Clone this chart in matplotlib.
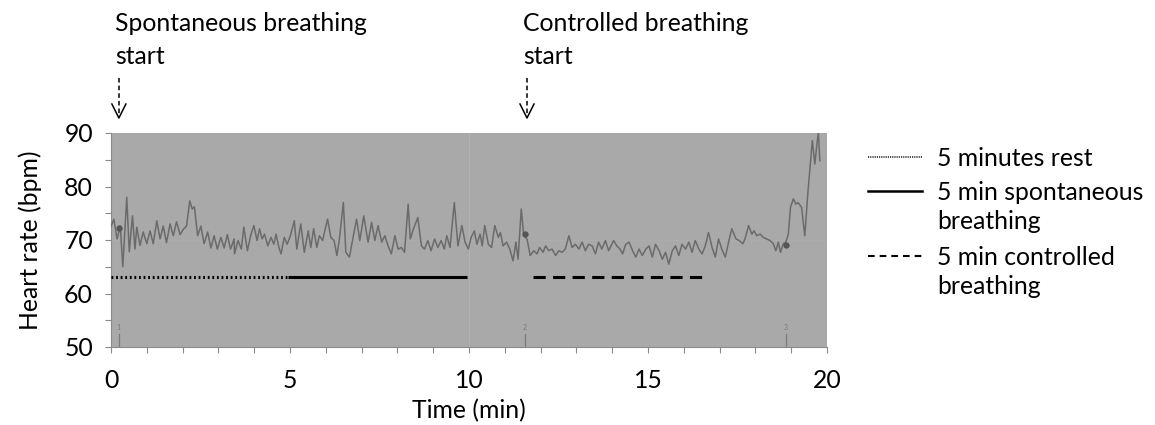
import matplotlib
matplotlib.use("Agg")
import matplotlib.pyplot as plt
from matplotlib.ticker import MultipleLocator
from matplotlib.lines import Line2D

# ---------------- data ----------------
hr_time = [0.00, 0.08, 0.17, 0.26, 0.33, 0.44, 0.51, 0.60, 0.67, 0.72, 0.81, 0.90, 1.00, 1.09, 1.18,
           1.28, 1.37, 1.46, 1.55, 1.65, 1.74, 1.83, 1.93, 2.02, 2.11, 2.20, 2.27, 2.33, 2.42, 2.51,
           2.60, 2.70, 2.79, 2.88, 2.97, 3.07, 3.16, 3.25, 3.34, 3.44,
           3.45, 3.55, 3.64, 3.71, 3.81, 3.90, 3.99, 4.08, 4.15, 4.22, 4.29, 4.38, 4.47, 4.55, 4.61,
           4.69, 4.75, 4.84, 4.92, 5.01, 5.12, 5.19, 5.30, 5.40, 5.51, 5.58, 5.66, 5.75, 5.82, 5.91,
           6.05, 6.14, 6.23, 6.31, 6.38, 6.49, 6.56, 6.66, 6.77, 6.86, 6.95,
           7.06, 7.18, 7.28, 7.37, 7.46, 7.56, 7.65, 7.74, 7.83, 7.93, 8.02, 8.11, 8.20, 8.30, 8.36,
           8.45, 8.57, 8.67, 8.76, 8.85, 8.94, 9.04, 9.13, 9.22, 9.31, 9.38, 9.47, 9.59, 9.69, 9.80,
           9.89, 9.98, 10.06, 10.15, 10.22, 10.31, 10.37, 10.44,
           10.54, 10.63, 10.72, 10.82, 10.88, 10.95, 11.05, 11.14, 11.23, 11.31, 11.37, 11.46, 11.53,
           11.62, 11.71, 11.81, 11.90, 11.97, 12.07, 12.14, 12.23, 12.32, 12.42, 12.51, 12.60, 12.69,
           12.79, 12.88, 12.97, 13.07, 13.16, 13.25, 13.34, 13.44, 13.53, 13.62, 13.71, 13.81, 13.90,
           14.04, 14.13, 14.22, 14.29, 14.38, 14.47, 14.57, 14.66, 14.75, 14.84, 14.94, 15.03, 15.12,
           15.21, 15.31, 15.40, 15.49, 15.58, 15.68, 15.77, 15.86, 15.95, 16.05, 16.14, 16.23, 16.32,
           16.42, 16.51, 16.60, 16.69, 16.79, 16.88, 16.97, 17.06, 17.16, 17.25, 17.34,
           17.46, 17.55, 17.65, 17.71, 17.81, 17.90, 17.96, 18.04, 18.13, 18.22, 18.31, 18.41, 18.50,
           18.57, 18.64, 18.70, 18.78, 18.85, 18.92, 18.98, 19.06, 19.13, 19.19, 19.29, 19.38, 19.47,
           19.54, 19.59, 19.66, 19.72, 19.76, 19.80]
hr_value = [72.5, 73.9, 70.2, 72.6, 65.0, 78.0, 67.8, 74.5, 68.3, 72.4, 69.0, 71.5, 69.3, 71.7, 69.3,
            73.6, 70.2, 72.6, 69.5, 73.0, 70.8, 73.4, 71.0, 72.0, 72.6, 77.3, 75.8, 76.2, 70.8, 72.6,
            69.3, 71.5, 68.5, 70.8, 68.3, 70.5, 68.5, 71.0, 68.3, 70.2,
            67.4, 69.9, 68.3, 72.4, 68.0, 70.8, 72.7, 69.9, 72.1, 70.2, 71.1, 68.9, 70.5, 69.2, 71.1,
            68.6, 67.4, 70.5, 69.2, 70.8, 73.6, 68.3, 73.0, 67.7, 71.7, 68.6, 72.1, 68.6, 70.8, 69.9,
            73.9, 70.5, 69.9, 67.1, 70.2, 77.0, 67.7, 66.8, 70.8, 73.9, 69.9,
            74.5, 69.6, 73.3, 69.9, 72.7, 69.6, 70.8, 68.9, 67.4, 70.8, 68.3, 68.6, 67.7, 76.7, 70.2,
            72.1, 74.2, 68.9, 68.3, 69.9, 68.0, 70.2, 68.6, 69.9, 68.3, 70.8, 68.6, 77.0, 68.9, 72.7,
            69.6, 68.3, 70.5, 71.7, 69.2, 71.1, 68.9, 72.7,
            69.2, 68.6, 72.7, 70.5, 71.4, 68.9, 69.6, 68.3, 66.1, 69.6, 66.4, 75.8, 70.8,
            70.2, 67.1, 68.0, 67.4, 68.6, 67.7, 68.9, 68.0, 68.3, 67.1, 68.0, 67.7, 68.3,
            70.8, 68.6, 69.2, 68.3, 69.6, 68.0, 69.2, 68.9, 67.4, 69.6, 68.3, 69.9, 68.0,
            69.9, 68.9, 68.3, 67.4, 69.2, 69.6, 68.0, 66.8, 68.3, 67.1, 68.3, 68.9, 66.8,
            69.2, 68.0, 66.4, 67.7, 65.5, 68.0, 68.9, 67.1, 69.2, 68.3, 69.6, 67.7, 69.9,
            68.3, 67.4, 68.9, 71.4, 68.6, 66.8, 70.2, 68.3, 66.8, 69.6, 72.1,
            70.2, 69.9, 69.3, 70.2, 72.7, 71.1, 71.7, 70.8, 71.1, 70.5, 70.2, 69.9, 69.3,
            68.0, 69.6, 67.7, 69.3, 69.6, 71.1, 76.1, 77.7, 76.7, 77.0, 76.1, 70.8, 79.2,
            84.8, 88.6, 84.2, 88.0, 90.0, 84.8]

event_time = [0.22, 11.56, 18.85]
event_value = [72.3, 71.1, 69.1]
event_label = ["1", "2", "3"]

phase_start = [0.0, 4.95, 11.8]
phase_end = [4.95, 9.95, 16.7]
phase_level = [63, 63, 63]
phase_label = ["5 minutes rest", "5 min spontaneous\nbreathing", "5 min controlled\nbreathing"]

arrow_time = [0.22, 11.62]
arrow_text = ["Spontaneous breathing\nstart", "Controlled breathing\nstart"]

x_ticks = [0, 5, 10, 15, 20]
y_ticks = [50, 60, 70, 80, 90]

# ---------------- figure ----------------
W, H = 1155, 425
plt.rcParams['font.family'] = ['Lato', 'DejaVu Sans']
FS = 17.8
fig = plt.figure(figsize=(W / 100, H / 100), dpi=100)
ax = fig.add_axes([111 / W, 1 - 347 / H, 716 / W, 214 / H])
ax.set_facecolor('#a9a9a9')
ax.set_xlim(0, 20)
ax.set_ylim(50, 90)

# faint recorder lines
ax.axvline(10, color='#b1b1b1', lw=0.8, zorder=1)
ax.axhline(70, color='#adadad', lw=0.6, zorder=1)

ax.plot(hr_time, hr_value, color='#6b6b6b', lw=1.1, zorder=3, clip_on=True)
ax.plot(event_time, event_value, 'o', color='#555555', ms=3.5, zorder=4)
for t, lab in zip(event_time, event_label):
    ax.plot([t, t], [50, 52.5], color='#7a7a7a', lw=0.9, zorder=2)
    ax.text(t, 53.0, lab, fontsize=5, color='#777777', ha='center', va='bottom')

styles = [dict(ls=(0, (0.6, 0.9)), lw=2.2), dict(ls='-', lw=2.2), dict(ls=(0, (4.0, 2.4)), lw=2.2)]
for s, e, lvl, st in zip(phase_start, phase_end, phase_level, styles):
    ax.plot([s, e], [lvl, lvl], color='black', solid_capstyle='butt', dash_capstyle='butt', zorder=5, **st)

for sp in ['top', 'right']:
    ax.spines[sp].set_visible(False)
for sp in ['left', 'bottom']:
    ax.spines[sp].set_color('#8a8a8a')
    ax.spines[sp].set_linewidth(0.8)

ax.set_xticks(x_ticks)
ax.set_yticks(y_ticks)
ax.xaxis.set_minor_locator(MultipleLocator(1))
ax.yaxis.set_minor_locator(MultipleLocator(5))
ax.tick_params(which='both', direction='out', length=4, width=0.8, color='#8a8a8a')
ax.tick_params(axis='x', which='major', labelsize=FS, pad=12)
ax.tick_params(axis='y', which='major', labelsize=FS, pad=9)
ax.set_xlabel('Time (min)', fontsize=FS, labelpad=5)
ax.set_ylabel('Heart rate (bpm)', fontsize=FS, labelpad=16)


def fx(px):
    return px / W


def fy(py):
    return 1 - py / H


# annotations above the plot
for t, txt in zip(arrow_time, arrow_text):
    xpix = 111 + t * 35.8
    fig.text(fx(xpix - 4), fy(12), txt, fontsize=FS, ha='left', va='top', linespacing=1.55)
    fig.add_artist(Line2D([fx(xpix)] * 2, [fy(78), fy(116)], color='black', lw=1.1,
                          ls=(0, (3, 2))))
    fig.add_artist(Line2D([fx(xpix - 7), fx(xpix), fx(xpix + 7)], [fy(104), fy(118), fy(104)],
                          color='black', lw=1.1))

# legend on the right
leg_line_y = [157, 191, 256]
leg_text_y = [160, 194, 259]
leg_styles = [dict(ls=(0, (0.5, 0.6)), lw=1.2), dict(ls='-', lw=1.8), dict(ls=(0, (3.2, 2.4)), lw=1.5)]
for ly, ty, lab, st in zip(leg_line_y, leg_text_y, phase_label, leg_styles):
    fig.add_artist(Line2D([fx(868), fx(922)], [fy(ly), fy(ly)], color='black', **st))
    fig.text(fx(937), fy(ty - 13), lab, fontsize=FS, ha='left', va='top', linespacing=1.3)

fig.savefig('out.png', dpi=100, facecolor='white')
